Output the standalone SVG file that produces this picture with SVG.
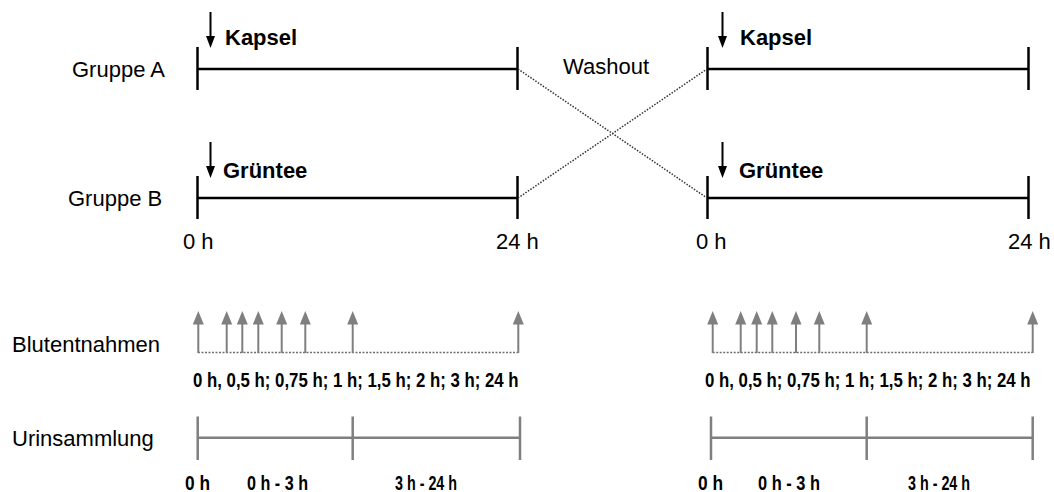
<svg xmlns="http://www.w3.org/2000/svg" width="1054" height="492" viewBox="0 0 1054 492">
  <style>
    .lbl { font-family: "Liberation Sans", Arial, sans-serif; font-size: 22px; fill: #000; }
    .bold { font-family: "Liberation Sans", Arial, sans-serif; font-size: 22px; font-weight: bold; fill: #000; }
    .small { font-family: "Liberation Sans", Arial, sans-serif; font-size: 21px; font-weight: bold; fill: #000; }
    .tl { stroke: #000; stroke-width: 2.5; fill: none; }
    .gray { stroke: #7f7f7f; stroke-width: 2.5; fill: none; }
    .shaft { stroke: #7f7f7f; stroke-width: 2; fill: none; }
    .dot { stroke: #6f6f6f; stroke-width: 1.5; stroke-dasharray: 2 1.5; fill: none; }
    .cross { stroke: #333; stroke-width: 1.5; stroke-dasharray: 1.5 1.5; fill: none; }
    .dose { stroke: #000; stroke-width: 2; fill: none; }
  </style>
  <defs>
    <!-- dosing arrow: shaft + head pointing down, tip at (0,0) -->
    <g id="doseArrow">
      <line class="dose" x1="0" y1="-36" x2="0" y2="-11"/>
      <polygon points="-4.5,-12 4.5,-12 0,0" fill="#000"/>
    </g>
    <!-- sampling arrow: tip at (0,0), shaft down to the baseline -->
    <g id="sampleArrow">
      <line class="shaft" x1="0" y1="12" x2="0" y2="42"/>
      <polygon points="-5.5,13.5 5.5,13.5 0,0" fill="#7f7f7f"/>
    </g>
  </defs>

  <!-- row labels -->
  <g id="labels">
    <text class="lbl" x="72" y="77">Gruppe A</text>
    <text class="lbl" x="68" y="206">Gruppe B</text>
    <text class="lbl" x="12" y="352">Blutentnahmen</text>
    <text class="lbl" x="12" y="446">Urinsammlung</text>
  </g>

  <!-- period 1 -->
  <g id="period1-A">
    <line class="tl" x1="197.5" y1="47" x2="197.5" y2="90"/>
    <line class="tl" x1="517.5" y1="47" x2="517.5" y2="90"/>
    <line class="tl" x1="197.5" y1="69" x2="517.5" y2="69"/>
    <use href="#doseArrow" x="210.5" y="48"/>
    <text class="bold" x="225" y="45">Kapsel</text>
  </g>
  <g id="period1-B">
    <line class="tl" x1="197.5" y1="176" x2="197.5" y2="219"/>
    <line class="tl" x1="517.5" y1="176" x2="517.5" y2="219"/>
    <line class="tl" x1="197.5" y1="198" x2="517.5" y2="198"/>
    <use href="#doseArrow" x="210.5" y="178"/>
    <text class="bold" x="223" y="178">Grüntee</text>
    <text class="lbl" x="183" y="249">0 h</text>
    <text class="lbl" x="496" y="249">24 h</text>
  </g>

  <!-- period 2 -->
  <g id="period2-A">
    <line class="tl" x1="707.5" y1="47" x2="707.5" y2="90"/>
    <line class="tl" x1="1028.5" y1="47" x2="1028.5" y2="90"/>
    <line class="tl" x1="707.5" y1="69" x2="1028.5" y2="69"/>
    <use href="#doseArrow" x="722.5" y="48"/>
    <text class="bold" x="740" y="45">Kapsel</text>
  </g>
  <g id="period2-B">
    <line class="tl" x1="707.5" y1="176" x2="707.5" y2="219"/>
    <line class="tl" x1="1028.5" y1="176" x2="1028.5" y2="219"/>
    <line class="tl" x1="707.5" y1="198" x2="1028.5" y2="198"/>
    <use href="#doseArrow" x="722.5" y="178"/>
    <text class="bold" x="739" y="178">Grüntee</text>
    <text class="lbl" x="696" y="249">0 h</text>
    <text class="lbl" x="1008" y="249">24 h</text>
  </g>

  <!-- washout crossover -->
  <g id="washout">
    <text class="lbl" x="563" y="74">Washout</text>
  </g>
  <g id="connectors">
    <line class="cross" x1="518" y1="69" x2="707" y2="198"/>
    <line class="cross" x1="518" y1="198" x2="707" y2="69"/>
  </g>

  <!-- blood sampling, period 1 -->
  <g id="blood1">
    <line class="dot" x1="198" y1="352.5" x2="518" y2="352.5"/>
    <use href="#sampleArrow" x="198.3" y="311"/>
    <use href="#sampleArrow" x="226.7" y="311"/>
    <use href="#sampleArrow" x="242.3" y="311"/>
    <use href="#sampleArrow" x="258.3" y="311"/>
    <use href="#sampleArrow" x="281.7" y="311"/>
    <use href="#sampleArrow" x="305.3" y="311"/>
    <use href="#sampleArrow" x="352.7" y="311"/>
    <use href="#sampleArrow" x="518.3" y="311"/>
    <text class="small" transform="translate(193 387) scale(0.8 1)" x="0" y="0">0 h, 0,5 h; 0,75 h; 1 h; 1,5 h; 2 h; 3 h; 24 h</text>
  </g>

  <!-- blood sampling, period 2 -->
  <g id="blood2">
    <line class="dot" x1="712.7" y1="352.5" x2="1032.7" y2="352.5"/>
    <use href="#sampleArrow" x="712.7" y="311"/>
    <use href="#sampleArrow" x="740.7" y="311"/>
    <use href="#sampleArrow" x="756.7" y="311"/>
    <use href="#sampleArrow" x="772.3" y="311"/>
    <use href="#sampleArrow" x="796" y="311"/>
    <use href="#sampleArrow" x="819.3" y="311"/>
    <use href="#sampleArrow" x="866.7" y="311"/>
    <use href="#sampleArrow" x="1032.7" y="311"/>
    <text class="small" transform="translate(705 387) scale(0.8 1)" x="0" y="0">0 h, 0,5 h; 0,75 h; 1 h; 1,5 h; 2 h; 3 h; 24 h</text>
  </g>

  <!-- urine collection, period 1 -->
  <g id="urine1">
    <line class="gray" x1="197.7" y1="416.5" x2="197.7" y2="460"/>
    <line class="gray" x1="352.7" y1="416.5" x2="352.7" y2="460"/>
    <line class="gray" x1="520" y1="416.5" x2="520" y2="460"/>
    <line class="gray" x1="197.7" y1="437.7" x2="520" y2="437.7"/>
    <text class="small" x="185" y="490" textLength="25" lengthAdjust="spacingAndGlyphs">0 h</text>
    <text class="small" x="247" y="490" textLength="61" lengthAdjust="spacingAndGlyphs">0 h - 3 h</text>
    <text class="small" x="395" y="490" textLength="62" lengthAdjust="spacingAndGlyphs">3 h - 24 h</text>
  </g>

  <!-- urine collection, period 2 -->
  <g id="urine2">
    <line class="gray" x1="711" y1="416.5" x2="711" y2="460"/>
    <line class="gray" x1="866.7" y1="416.5" x2="866.7" y2="460"/>
    <line class="gray" x1="1032.7" y1="416.5" x2="1032.7" y2="460"/>
    <line class="gray" x1="711" y1="437.7" x2="1032.7" y2="437.7"/>
    <text class="small" x="698" y="490" textLength="25" lengthAdjust="spacingAndGlyphs">0 h</text>
    <text class="small" x="758" y="490" textLength="62" lengthAdjust="spacingAndGlyphs">0 h - 3 h</text>
    <text class="small" x="908" y="490" textLength="62" lengthAdjust="spacingAndGlyphs">3 h - 24 h</text>
  </g>
</svg>
